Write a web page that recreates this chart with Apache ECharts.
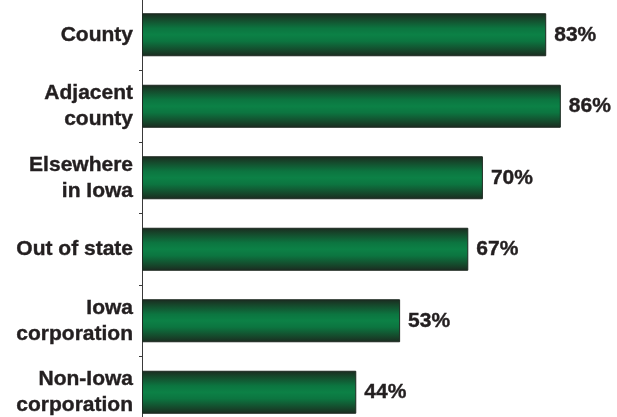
<!DOCTYPE html>
<html>
<head>
<meta charset="utf-8">
<script src="https://cdn.jsdelivr.net/npm/echarts@6/dist/echarts.min.js"></script>
<style>
  html, body { margin: 0; padding: 0; background: #ffffff; }
  #chart { width: 617px; height: 417px; }
</style>
</head>
<body>
<div id="chart"></div>
<script>
// Where the respondents come from, share in percent
const categories = [
  'County',
  'Adjacent\ncounty',
  'Elsewhere\nin Iowa',
  'Out of state',
  'Iowa\ncorporation',
  'Non-Iowa\ncorporation'
];
const shares = [83, 86, 70, 67, 53, 44];

const textColor = '#231f20';
const fontFamily = '"Liberation Sans", Arial, Helvetica, sans-serif';

// Vertical shading across each bar: dark edges, bright green core
const barFill = new echarts.graphic.LinearGradient(0, 0, 0, 1, [
  { offset: 0.00, color: '#1b2a20' },
  { offset: 0.12, color: '#16452a' },
  { offset: 0.35, color: '#0c7540' },
  { offset: 0.50, color: '#0c8146' },
  { offset: 0.65, color: '#0c7540' },
  { offset: 0.88, color: '#16452a' },
  { offset: 1.00, color: '#1b2a20' }
]);

const textStyle = {
  color: textColor,
  fontFamily: fontFamily,
  fontWeight: 'bold',
  fontSize: 21,
  textBorderColor: textColor,
  textBorderWidth: 0.4
};

const chart = echarts.init(document.getElementById('chart'), null, { renderer: 'canvas' });
chart.setOption({
  animation: false,
  backgroundColor: '#ffffff',
  // the plot runs past the bottom and right edges of the canvas
  grid: { left: 142, top: -1, width: 487, height: 429, containLabel: false, outerBoundsMode: 'none' },
  xAxis: {
    type: 'value',
    min: 0,
    max: 100,
    show: false
  },
  yAxis: {
    type: 'category',
    data: categories,
    inverse: true,
    axisLine: { show: true, lineStyle: { color: '#3a3a3a', width: 1 } },
    axisTick: { show: true, length: 3, lineStyle: { color: '#3a3a3a', width: 1 } },
    axisLabel: Object.assign({
      margin: 9,
      lineHeight: 26,
      align: 'right'
    }, textStyle),
    splitLine: { show: false }
  },
  series: [{
    type: 'bar',
    data: shares,
    barWidth: 43,
    itemStyle: {
      color: barFill,
      borderColor: '#1c2920',
      borderWidth: 1
    },
    label: Object.assign({
      show: true,
      position: 'right',
      distance: 8,
      formatter: '{c}%'
    }, textStyle)
  }]
});
</script>
</body>
</html>
